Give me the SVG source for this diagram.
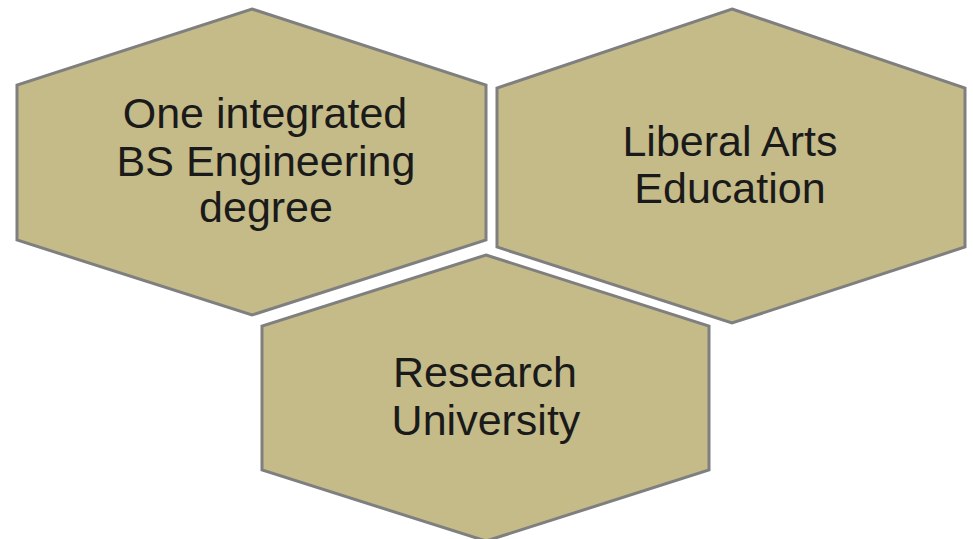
<svg xmlns="http://www.w3.org/2000/svg" width="973" height="539" viewBox="0 0 973 539">
<style>
.hex{fill:#c4bb88;stroke:#7f7f7f;stroke-width:3;stroke-linejoin:miter}
.t{font-family:"Liberation Sans",Arial,sans-serif;font-size:43px;fill:#1a1a1a;text-anchor:middle}
</style>
<rect width="973" height="539" fill="#ffffff"/>
<g id="node-engineering">
<polygon class="hex" points="252,9 486,85 486,240 252,315 17,240 17,85"/>
<text class="t" x="265" y="128">One integrated</text>
<text class="t" x="266" y="176">BS Engineering</text>
<text class="t" x="266" y="222">degree</text>
</g>
<g id="node-liberal">
<polygon class="hex" points="732,9 965,88 965,247 732,323 497,247 497,88"/>
<text class="t" x="730" y="156">Liberal Arts</text>
<text class="t" x="730" y="203">Education</text>
</g>
<g id="node-research">
<polygon class="hex" points="486,255 709,326 709,470 486,541 262,470 262,326"/>
<text class="t" x="485" y="387">Research</text>
<text class="t" x="486" y="435">University</text>
</g>
<g id="connectors"/>
</svg>
